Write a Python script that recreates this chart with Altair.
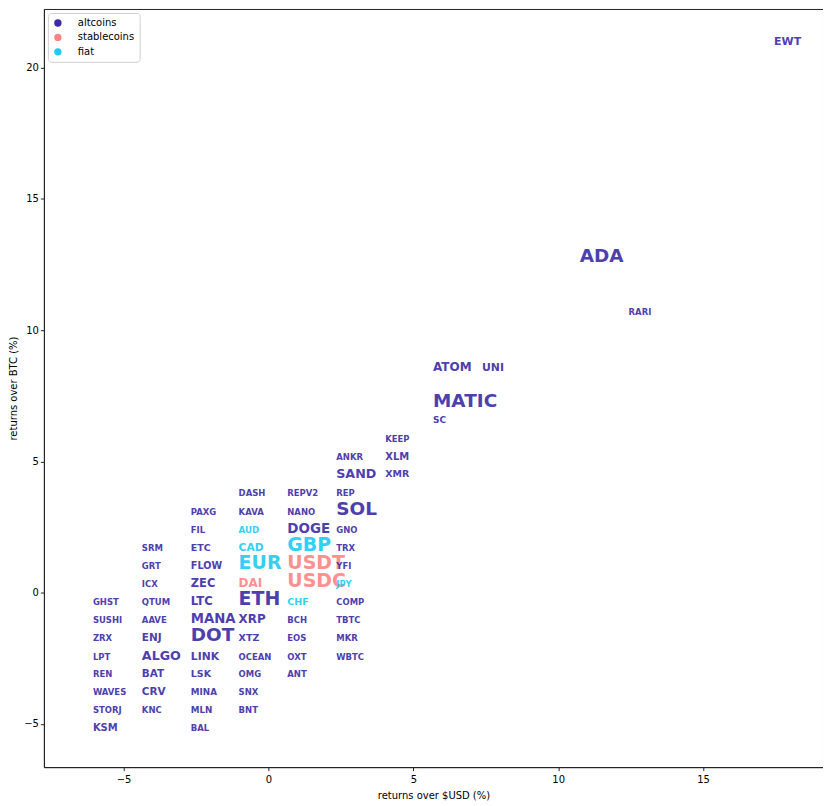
import altair as alt
import pandas as pd

# symbol, group, returns over $USD (%), returns over BTC (%), relative weight (size tier)
symbols = [
    "GHST", "SUSHI", "ZRX", "LPT", "REN", "WAVES", "STORJ", "KSM",
    "SRM", "GRT", "ICX", "QTUM", "AAVE", "ENJ", "ALGO", "BAT", "CRV", "KNC",
    "PAXG", "FIL", "ETC", "FLOW", "ZEC", "LTC", "MANA", "DOT", "LINK", "LSK", "MINA", "MLN", "BAL",
    "DASH", "KAVA", "AUD", "CAD", "EUR", "DAI", "ETH", "XRP", "XTZ", "OCEAN", "OMG", "SNX", "BNT",
    "REPV2", "NANO", "DOGE", "GBP", "USDT", "USDC", "CHF", "BCH", "EOS", "OXT", "ANT",
    "ANKR", "SAND", "REP", "SOL", "GNO", "TRX", "YFI", "JPY", "COMP", "TBTC", "MKR", "WBTC",
    "KEEP", "XLM", "XMR",
    "ATOM", "MATIC", "SC", "UNI", "ADA", "RARI", "EWT",
]
groups = [
    "altcoins", "altcoins", "altcoins", "altcoins", "altcoins", "altcoins", "altcoins", "altcoins",
    "altcoins", "altcoins", "altcoins", "altcoins", "altcoins", "altcoins", "altcoins", "altcoins", "altcoins", "altcoins",
    "altcoins", "altcoins", "altcoins", "altcoins", "altcoins", "altcoins", "altcoins", "altcoins", "altcoins", "altcoins", "altcoins", "altcoins", "altcoins",
    "altcoins", "altcoins", "fiat", "fiat", "fiat", "stablecoins", "altcoins", "altcoins", "altcoins", "altcoins", "altcoins", "altcoins", "altcoins",
    "altcoins", "altcoins", "altcoins", "fiat", "stablecoins", "stablecoins", "fiat", "altcoins", "altcoins", "altcoins", "altcoins",
    "altcoins", "altcoins", "altcoins", "altcoins", "altcoins", "altcoins", "altcoins", "fiat", "altcoins", "altcoins", "altcoins", "altcoins",
    "altcoins", "altcoins", "altcoins",
    "altcoins", "altcoins", "altcoins", "altcoins", "altcoins", "altcoins", "altcoins",
]
usd_returns = [
    -6.06, -6.06, -6.06, -6.06, -6.06, -6.06, -6.06, -6.06,
    -4.37, -4.37, -4.37, -4.37, -4.37, -4.37, -4.37, -4.37, -4.37, -4.37,
    -2.68, -2.68, -2.68, -2.68, -2.68, -2.68, -2.68, -2.68, -2.68, -2.68, -2.68, -2.68, -2.68,
    -1.03, -1.03, -1.03, -1.03, -1.03, -1.03, -1.03, -1.03, -1.03, -1.03, -1.03, -1.03, -1.03,
    0.65, 0.65, 0.65, 0.65, 0.65, 0.65, 0.65, 0.65, 0.65, 0.65, 0.65,
    2.34, 2.34, 2.34, 2.34, 2.34, 2.34, 2.34, 2.34, 2.34, 2.34, 2.34, 2.34,
    4.03, 4.03, 4.03,
    5.68, 5.68, 5.68, 7.37, 10.74, 12.43, 17.45,
]
btc_returns = [
    -0.46, -1.14, -1.83, -2.55, -3.23, -3.92, -4.60, -5.27,
    1.60, 0.91, 0.23, -0.46, -1.14, -1.83, -2.55, -3.23, -3.92, -4.60,
    2.97, 2.28, 1.60, 0.91, 0.23, -0.46, -1.14, -1.83, -2.55, -3.23, -3.92, -4.60, -5.27,
    3.69, 2.97, 2.28, 1.60, 0.91, 0.23, -0.46, -1.14, -1.83, -2.55, -3.23, -3.92, -4.60,
    3.69, 2.97, 2.28, 1.60, 0.91, 0.23, -0.46, -1.14, -1.83, -2.55, -3.23,
    5.06, 4.35, 3.69, 2.97, 2.28, 1.60, 0.91, 0.23, -0.46, -1.14, -1.83, -2.55,
    5.74, 5.07, 4.40,
    8.46, 7.08, 6.45, 8.44, 12.60, 10.57, 20.87,
]
weights = [
    0, 0, 0, 0, 0, 0, 0, 1.5,
    0, 0, 0, 0, 0, 2, 4.2, 2, 2, 0,
    0, 0, 1, 1.2, 3, 3.2, 4.8, 10, 2.3, 1, 0.3, 0.3, 0,
    0, 0, 0.2, 2.2, 10.5, 3.5, 10.5, 3.4, 1.1, 0, 0, 0, 0,
    0, 0, 5, 10.5, 10.5, 10.5, 1.1, 0, 0, 0, 0,
    0, 4.2, 0, 10, 0, 0, 0, 0, 0, 0, 0, 0,
    0, 1.5, 1,
    3.5, 10, 0.5, 2.4, 10, 0, 2.5,
]

group_order = ["altcoins", "stablecoins", "fiat"]
group_colors = ["#3b2ba6", "#ff8585", "#1ecbf4"]

df = pd.DataFrame({
    "symbol": symbols,
    "group": groups,
    "usd": usd_returns,
    "btc": btc_returns,
    "weight": weights,
})

FONT = "DejaVu Sans"

chart = alt.Chart(df).mark_text(
    align="left", baseline="alphabetic", font=FONT, fontWeight="bold", opacity=0.9
).encode(
    x=alt.X("usd:Q", title="returns over $USD (%)",
            scale=alt.Scale(domain=[-7.75, 19.14], nice=False, zero=False),
            axis=alt.Axis(values=[-5, 0, 5, 10, 15], grid=False,
                          labelPadding=4, titlePadding=6)),
    y=alt.Y("btc:Q", title="returns over BTC (%)",
            scale=alt.Scale(domain=[-6.65, 22.24], nice=False, zero=False),
            axis=alt.Axis(values=[-5, 0, 5, 10, 15, 20], grid=False)),
    text="symbol:N",
    color=alt.Color("group:N", title=None,
                    scale=alt.Scale(domain=group_order, range=group_colors),
                    legend=alt.Legend(orient="top-left", symbolType="circle",
                                      symbolOpacity=1, symbolSize=55,
                                      symbolStrokeWidth=0,
                                      labelFont=FONT, labelFontSize=10,
                                      labelColor="#000",
                                      padding=5, offset=4,
                                      strokeColor="#d0d0d0", fillColor="white",
                                      cornerRadius=3, rowPadding=4.5,
                                      labelOffset=15)),
    size=alt.Size("weight:Q", scale=alt.Scale(domain=[0, 10.5], range=[8.5, 19]), legend=None),
).properties(
    width=781, height=760, padding={"left": 0, "top": 0, "right": 0, "bottom": 0}
).configure_view(
    stroke="#222", strokeWidth=1
).configure_axis(
    labelFont=FONT, labelFontSize=10, labelColor="#000",
    titleFont=FONT, titleFontSize=10, titleFontWeight="normal", titleColor="#000",
    domainColor="#222", tickColor="#222", tickSize=3.5, labelPadding=2,
    titlePadding=5,
)

chart.save("out.html", embed_options={"renderer": "svg", "actions": False})
